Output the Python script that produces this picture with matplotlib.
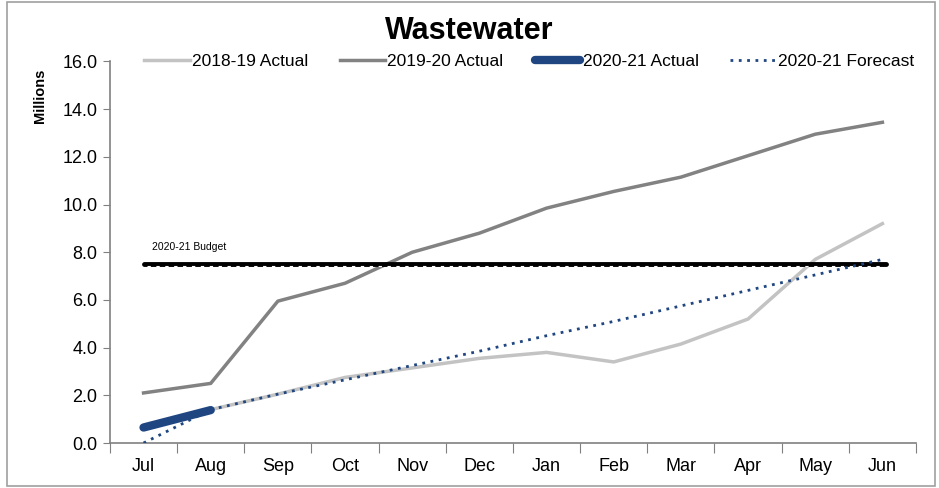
import matplotlib.pyplot as plt
import matplotlib.patches as mpatches

plt.rcParams['font.family'] = ['Liberation Sans', 'DejaVu Sans']

# data (millions)
months = ['Jul', 'Aug', 'Sep', 'Oct', 'Nov', 'Dec', 'Jan', 'Feb', 'Mar', 'Apr', 'May', 'Jun']
actual_1819 = [0.7, 1.4, 2.05, 2.75, 3.15, 3.55, 3.8, 3.4, 4.15, 5.2, 7.7, 9.2]
actual_1920 = [2.1, 2.5, 5.95, 6.7, 8.0, 8.8, 9.85, 10.55, 11.15, 12.05, 12.95, 13.45]
actual_2021 = [0.65, 1.38]
forecast_2021 = [0.0, 1.4, 2.05, 2.65, 3.25, 3.85, 4.5, 5.1, 5.75, 6.4, 7.05, 7.7]
budget_2021 = 7.5
yticks = [0, 2, 4, 6, 8, 10, 12, 14, 16]

x = list(range(len(months)))

fig = plt.figure(figsize=(9.39, 4.88), dpi=100)
ax = fig.add_axes([0.1171, 0.0922, 0.8584, 0.7818])

# border round the whole picture
fig.patches.append(mpatches.Rectangle((0.0075, 0.004), 0.988, 0.992, transform=fig.transFigure,
                                      fill=False, edgecolor='#a0a0a0', linewidth=1.2))

# budget line
ax.plot([0, 11.06], [budget_2021, budget_2021], color='black', linewidth=3.5,
        solid_capstyle='round', zorder=3)
ax.plot([0.05, 11.0], [budget_2021 - 0.06, budget_2021 - 0.06], color='white', linewidth=0.8,
        linestyle=(0, (3, 5)), zorder=3)
ax.text(0.13, budget_2021 + 0.6, '2020-21 Budget', fontsize=7.5, color='black')

ax.plot(x, actual_1819, color='#c3c3c3', linewidth=2.5, label='2018-19 Actual', zorder=2)
ax.plot(x, actual_1920, color='#828282', linewidth=2.5, label='2019-20 Actual', zorder=2)
ax.plot(x[:len(actual_2021)], actual_2021, color='#1f4680', linewidth=6,
        solid_capstyle='round', label='2020-21 Actual', zorder=4)
ax.plot(x, forecast_2021, color='#1f4680', linewidth=2, linestyle=(0, (1, 2)),
        label='2020-21 Forecast', zorder=4)

ax.set_xlim(-0.5, 11.5)
ax.set_ylim(0, 16)
ax.set_yticks(yticks)
ax.set_yticklabels([f'{v:.1f}' for v in yticks], fontsize=13)
ax.set_xticks([i - 0.5 for i in range(13)])
ax.set_xticklabels([])
ax.set_xticks(x, minor=True)
ax.set_xticklabels(months, minor=True, fontsize=13)
ax.tick_params(axis='x', which='minor', length=0, pad=11)
ax.tick_params(axis='x', which='major', length=7, color='#808080', direction='out')
ax.tick_params(axis='y', length=5, color='#808080', direction='out', pad=4)

for s in ['top', 'right']:
    ax.spines[s].set_visible(False)
for s in ['left', 'bottom']:
    ax.spines[s].set_color('#808080')
    ax.spines[s].set_linewidth(1.2)

ax.set_ylabel('Millions', fontsize=10.5, fontweight='bold')
ax.yaxis.set_label_coords(-0.078, 0.91)

fig.text(0.5, 0.936, 'Wastewater', fontsize=22, fontweight='bold', ha='center', va='center')

leg = ax.legend(loc='center', bbox_to_anchor=(0.52, 1.0), ncol=4, frameon=False,
                fontsize=12.5, handlelength=2.6, handletextpad=0.15, columnspacing=1.8,
                borderaxespad=0)

fig.savefig('out.png', dpi=100)
